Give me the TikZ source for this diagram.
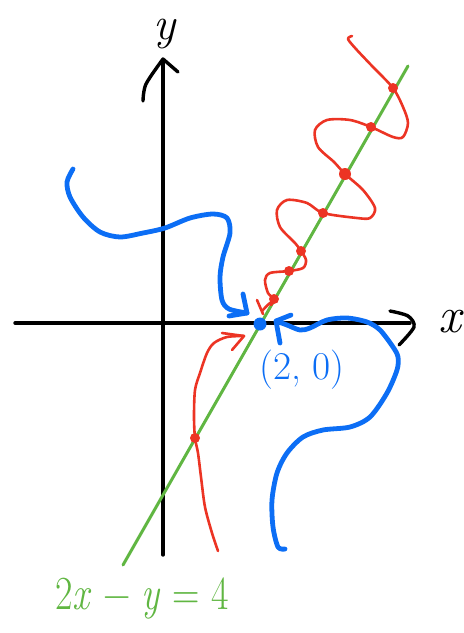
\documentclass[tikz,border=0pt]{standalone}
\usepackage{fontspec}
\usetikzlibrary{positioning,calc}
\definecolor{penblue}{RGB}{12,110,245}
\definecolor{penred}{RGB}{236,52,36}
\definecolor{pengreen}{RGB}{96,182,66}

\begin{document}
\begin{tikzpicture}[
  x=0.5mm, y=-0.5mm,
  ink/.style={line cap=round, line join=round},
  axis/.style={ink, black, line width=1.7mm},
  lin/.style={ink, pengreen, line width=1.5mm},
  bpath/.style={ink, penblue, line width=2.4mm},
  rpath/.style={ink, penred, line width=1.3mm},
  hit/.style={circle, fill=penred, inner sep=0pt, minimum size=5mm},
  lbl/.style={inner sep=0pt}
]
\useasboundingbox (0,0) rectangle (464,633);

% axes
\coordinate (xl) at (15,323);
\coordinate (xr) at (410,323);
\coordinate (yb) at (163,555);
\coordinate (yt) at (163,60);
\draw[axis] (xl) -- (xr);
\draw[axis] (yb) -- (yt);
\draw[axis] plot[smooth] coordinates {(390,311) (408,316) (414,327) (399,345)};
\draw[axis] plot[smooth] coordinates {(143,101) (146,84) (163,59)} -- (178,72);
\node[lbl, font=\fontsize{66}{72}\selectfont\itshape] (ylab) at (165,34) {y};
\node[lbl, font=\fontsize{72}{80}\selectfont\itshape] (xlab) at (450,322) {x};

% the line 2x-y=4
\coordinate (gb) at (123,565);
\coordinate (gt) at (408,66);
\draw[lin] (gb) -- (gt);
\node[lbl, text=pengreen, font=\fontsize{54}{60}\selectfont] (eq) at (142,598)
  {\scalebox{1}[1.25]{2\textit{x} − \textit{y} = 4}};

% red path from above, wiggling down the line
\draw[rpath] plot[smooth] coordinates {(352,36) (348,39) (356,49) (373,67) (393,88)
  (403,107) (408,123) (403,137) (393,137) (371,127) (350,120) (327,120) (315,130) (318,147)
  (334,162) (345,174) (363,190) (375,208) (370,218) (357,218) (323,213) (307,203) (287,200)
  (277,210) (280,227) (295,243) (301,251) (306,260) (303,268) (289,271) (270,273) (265,280)
  (268,293) (274,299) (271,305)};
\draw[rpath] (257,300) -- (263,314);
\draw[rpath] plot[smooth] coordinates {(262,311) (270,303) (277,300)};
\foreach \p in {(393,88),(371,127),(323,213),(301,251),(289,271),(274,299),(195,438)}
  \node[hit] at \p {};
\node[hit, minimum size=6mm] (mid) at (345,174) {};

% red path from below
\coordinate (rtip) at (244,336);
\draw[rpath] plot[smooth] coordinates {(218,551) (212,533) (205,507) (201,477) (198,453) (195,438)
  (194,417) (195,390) (200,373) (207,353) (214,343) (227,337) (244,336)};
\draw[rpath] (222,333) -- (rtip) -- (232,350);

% point (2,0)
\node[circle, fill=penblue, inner sep=0pt, minimum size=6.5mm] (pt) at (260,324) {};
\node[lbl, text=penblue, font=\fontsize{56}{62}\selectfont] (ptlab) at (302,370) {(2, 0)};

% blue path from upper left
\coordinate (btip1) at (247,313);
\draw[bpath] plot[smooth] coordinates {(73,169) (67,182) (70,197) (83,217) (100,232) (120,237)
  (143,233) (165,228) (190,218) (213,214) (227,218) (230,233) (223,257) (220,277) (222,300)
  (229,309) (247,313)};
\draw[bpath] (243,294) -- (btip1) -- (229,316);

% blue path from lower right
\coordinate (btip2) at (276,321);
\draw[bpath] plot[smooth] coordinates {(285,549) (278,547) (273,527) (272,500) (277,473) (287,453)
  (303,437) (323,430) (350,427) (370,417) (387,393) (397,370) (398,357) (393,347) (380,330)
  (367,322) (347,318) (327,320) (310,328) (300,330) (287,325) (276,321)};
\draw[bpath] (291,315) -- (btip2) -- (280,343);
\end{tikzpicture}
\end{document}
